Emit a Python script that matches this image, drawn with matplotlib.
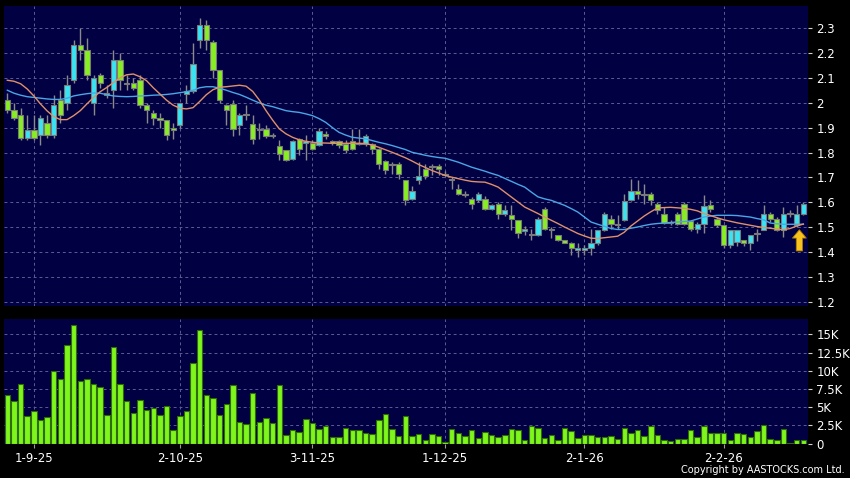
import matplotlib
matplotlib.use("Agg")
import matplotlib.pyplot as plt

# daily candles (index 0 = first bar on the left)
opens = [2.01, 1.97, 1.95, 1.86, 1.89, 1.87, 1.92, 1.87, 2.01, 2.00,
         2.09, 2.23, 2.21, 2.00, 2.11, 2.04, 2.05, 2.17, 2.08, 2.08,
         2.09, 1.99, 1.96, 1.94, 1.93, 1.90, 1.91, 2.035, 2.045, 2.25,
         2.31, 2.245, 2.13, 1.99, 1.995, 1.91, 1.955, 1.915, 1.895, 1.895,
         1.87, 1.825, 1.81, 1.775, 1.855, 1.84, 1.84, 1.83, 1.875, 1.845,
         1.845, 1.835, 1.845, 1.84, 1.835, 1.835, 1.815, 1.765, 1.755, 1.755,
         1.688, 1.615, 1.69, 1.735, 1.742, 1.745, 1.712, 1.692, 1.655, 1.635,
         1.615, 1.61, 1.615, 1.575, 1.595, 1.555, 1.548, 1.528, 1.487, 1.47,
         1.468, 1.575, 1.49, 1.468, 1.448, 1.435, 1.41, 1.41, 1.415, 1.435,
         1.488, 1.535, 1.51, 1.528, 1.608, 1.645, 1.628, 1.635, 1.595, 1.555,
         1.52, 1.555, 1.595, 1.525, 1.495, 1.515, 1.588, 1.535, 1.508, 1.43,
         1.441, 1.448, 1.435, 1.472, 1.49, 1.555, 1.532, 1.488, 1.555, 1.508,
         1.555]
closes = [1.97, 1.94, 1.86, 1.89, 1.86, 1.94, 1.87, 1.99, 1.95, 2.07,
          2.23, 2.21, 2.11, 2.10, 2.08, 2.03, 2.17, 2.09, 2.076, 2.06,
          1.99, 1.97, 1.94, 1.93, 1.87, 1.89, 2.00, 2.045, 2.155, 2.31,
          2.25, 2.13, 2.01, 1.97, 1.895, 1.95, 1.95, 1.855, 1.89, 1.868,
          1.865, 1.795, 1.77, 1.845, 1.815, 1.845, 1.815, 1.888, 1.868, 1.84,
          1.83, 1.81, 1.815, 1.835, 1.865, 1.815, 1.755, 1.73, 1.75, 1.715,
          1.61, 1.645, 1.705, 1.705, 1.74, 1.735, 1.71, 1.69, 1.635, 1.63,
          1.595, 1.635, 1.575, 1.59, 1.555, 1.568, 1.535, 1.475, 1.493, 1.468,
          1.535, 1.495, 1.488, 1.448, 1.437, 1.415, 1.415, 1.415, 1.435, 1.488,
          1.555, 1.515, 1.515, 1.605, 1.645, 1.635, 1.632, 1.608, 1.568, 1.518,
          1.517, 1.515, 1.515, 1.495, 1.515, 1.585, 1.575, 1.508, 1.428, 1.488,
          1.488, 1.435, 1.468, 1.477, 1.555, 1.535, 1.488, 1.555, 1.552, 1.555,
          1.595]
highs = [2.04, 2.00, 1.98, 1.95, 1.95, 1.95, 1.95, 2.03, 2.05, 2.11,
         2.25, 2.30, 2.26, 2.11, 2.12, 2.07, 2.21, 2.20, 2.11, 2.10,
         2.11, 2.00, 1.97, 1.96, 1.93, 1.92, 2.00, 2.07, 2.24, 2.34,
         2.33, 2.25, 2.13, 1.995, 2.01, 1.96, 1.99, 1.95, 1.92, 1.91,
         1.88, 1.85, 1.81, 1.85, 1.86, 1.87, 1.85, 1.90, 1.885, 1.85,
         1.85, 1.85, 1.895, 1.895, 1.875, 1.84, 1.82, 1.77, 1.76, 1.76,
         1.69, 1.665, 1.76, 1.755, 1.755, 1.755, 1.725, 1.70, 1.675, 1.645,
         1.62, 1.64, 1.625, 1.595, 1.60, 1.59, 1.59, 1.53, 1.505, 1.495,
         1.54, 1.58, 1.50, 1.47, 1.45, 1.44, 1.435, 1.43, 1.495, 1.49,
         1.56, 1.55, 1.55, 1.635, 1.695, 1.69, 1.675, 1.64, 1.60, 1.58,
         1.53, 1.56, 1.60, 1.53, 1.52, 1.63, 1.61, 1.54, 1.51, 1.49,
         1.49, 1.45, 1.47, 1.495, 1.59, 1.56, 1.54, 1.58, 1.57, 1.59,
         1.60]
lows = [1.96, 1.93, 1.85, 1.85, 1.85, 1.83, 1.86, 1.86, 1.92, 1.97,
        2.08, 2.17, 2.09, 1.95, 2.06, 2.02, 1.98, 2.05, 2.05, 2.05,
        1.98, 1.92, 1.91, 1.90, 1.85, 1.855, 1.90, 2.00, 2.04, 2.22,
        2.21, 2.10, 2.00, 1.91, 1.865, 1.87, 1.93, 1.835, 1.855, 1.86,
        1.86, 1.77, 1.765, 1.77, 1.79, 1.77, 1.81, 1.825, 1.855, 1.83,
        1.82, 1.80, 1.81, 1.83, 1.825, 1.795, 1.735, 1.715, 1.715, 1.695,
        1.59, 1.61, 1.675, 1.695, 1.71, 1.71, 1.705, 1.655, 1.63, 1.62,
        1.575, 1.60, 1.57, 1.57, 1.535, 1.545, 1.49, 1.455, 1.47, 1.448,
        1.465, 1.49, 1.455, 1.445, 1.435, 1.39, 1.38, 1.39, 1.39, 1.43,
        1.485, 1.495, 1.495, 1.525, 1.605, 1.615, 1.595, 1.59, 1.555, 1.515,
        1.51, 1.51, 1.51, 1.485, 1.475, 1.475, 1.56, 1.50, 1.415, 1.415,
        1.425, 1.425, 1.41, 1.445, 1.49, 1.52, 1.485, 1.46, 1.54, 1.50,
        1.55]

# moving averages as drawn (orange = short, blue = long)
ma_short = [2.090, 2.086, 2.076, 2.055, 2.027, 1.995, 1.967, 1.944, 1.932, 1.932,
            1.948, 1.968, 1.995, 2.021, 2.044, 2.061, 2.081, 2.100, 2.112, 2.115,
            2.104, 2.088, 2.060, 2.035, 2.010, 1.990, 1.978, 1.975, 1.980, 2.005,
            2.032, 2.052, 2.062, 2.064, 2.067, 2.070, 2.066, 2.045, 2.010, 1.968,
            1.930, 1.895, 1.875, 1.861, 1.851, 1.845, 1.841, 1.839, 1.838, 1.837,
            1.837, 1.837, 1.837, 1.837, 1.836, 1.830, 1.821, 1.811, 1.801, 1.790,
            1.779, 1.766, 1.752, 1.740, 1.728, 1.718, 1.708, 1.701, 1.695, 1.689,
            1.684, 1.682, 1.681, 1.672, 1.661, 1.641, 1.621, 1.601, 1.581, 1.568,
            1.555, 1.541, 1.528, 1.515, 1.501, 1.488, 1.475, 1.465, 1.456, 1.455,
            1.458, 1.461, 1.464, 1.480, 1.505, 1.525, 1.545, 1.562, 1.577, 1.579,
            1.580, 1.578, 1.576, 1.572, 1.566, 1.555, 1.547, 1.538, 1.530, 1.524,
            1.518, 1.513, 1.508, 1.503, 1.499, 1.496, 1.493, 1.490, 1.495, 1.505,
            1.513]
ma_long = [2.050, 2.038, 2.030, 2.024, 2.021, 2.018, 2.015, 2.013, 2.013, 2.018,
           2.027, 2.032, 2.036, 2.039, 2.038, 2.032, 2.027, 2.025, 2.024, 2.025,
           2.027, 2.028, 2.030, 2.031, 2.033, 2.036, 2.040, 2.044, 2.050, 2.060,
           2.064, 2.064, 2.058, 2.050, 2.041, 2.033, 2.022, 2.010, 1.999, 1.990,
           1.984, 1.976, 1.968, 1.964, 1.961, 1.955, 1.948, 1.936, 1.921, 1.900,
           1.881, 1.870, 1.861, 1.858, 1.855, 1.848, 1.841, 1.835, 1.828, 1.820,
           1.812, 1.801, 1.795, 1.789, 1.784, 1.780, 1.777, 1.769, 1.761, 1.751,
           1.741, 1.733, 1.725, 1.716, 1.708, 1.696, 1.684, 1.672, 1.661, 1.641,
           1.622, 1.614, 1.608, 1.598, 1.588, 1.575, 1.561, 1.541, 1.521, 1.512,
           1.504, 1.495, 1.491, 1.491, 1.496, 1.501, 1.507, 1.512, 1.515, 1.517,
           1.519, 1.521, 1.523, 1.525, 1.533, 1.541, 1.545, 1.548, 1.548, 1.548,
           1.547, 1.544, 1.541, 1.535, 1.530, 1.517, 1.514, 1.512, 1.512, 1.512,
           1.512]

# volume in thousands of shares
volumes = [6.65, 5.87, 8.17, 3.76, 4.50, 3.30, 3.72, 10.0, 8.90, 13.49,
           16.24, 8.62, 8.81, 8.17, 7.80, 3.99, 13.21, 8.12, 5.83, 4.27,
           5.92, 4.68, 4.95, 3.99, 5.18, 1.88, 3.76, 4.50, 11.06, 15.55,
           6.65, 6.24, 3.94, 5.46, 8.03, 3.03, 2.71, 6.88, 3.03, 3.53,
           2.84, 7.98, 1.24, 1.83, 1.65, 3.44, 2.89, 2.06, 2.39, 0.96,
           0.92, 2.20, 1.83, 1.93, 1.47, 1.28, 3.30, 4.13, 1.97, 1.01,
           3.81, 1.06, 1.38, 0.55, 1.38, 1.10, 0.23, 2.02, 1.47, 1.01,
           1.93, 0.83, 1.65, 1.15, 0.92, 1.15, 2.02, 1.93, 0.55, 2.48,
           2.11, 0.78, 1.24, 0.46, 2.20, 1.74, 0.73, 1.24, 1.15, 0.87,
           0.87, 1.06, 0.64, 2.11, 1.51, 1.93, 1.06, 2.39, 1.15, 0.55,
           0.32, 0.69, 0.69, 1.83, 0.92, 2.43, 1.47, 1.51, 1.42, 0.46,
           1.42, 1.28, 0.87, 1.70, 2.52, 0.60, 0.46, 1.97, 0.09, 0.55,
           0.55]

date_positions = [4, 26, 46, 66, 87, 108]
date_labels = ['1-9-25', '2-10-25', '3-11-25', '1-12-25', '2-1-26', '2-2-26']

price_ticks = [1.2, 1.3, 1.4, 1.5, 1.6, 1.7, 1.8, 1.9, 2.0, 2.1, 2.2, 2.3]
volume_ticks = [0, 2.5, 5, 7.5, 10, 12.5, 15]
volume_tick_labels = ['0', '2.5K', '5K', '7.5K', '10K', '12.5K', '15K']

# signal arrow under the latest bars
arrow_x = 119.4
arrow_base, arrow_tip = 1.405, 1.49

UP_COLOR = '#3be3f2'
DOWN_COLOR = '#86ee22'
PANEL_BG = '#000042'
GRID_COLOR = '#5c5c92'

x = list(range(len(closes)))

fig = plt.figure(figsize=(8.5, 4.78), dpi=100, facecolor='black')
ax1 = fig.add_axes([4 / 850, 1 - 306 / 478, 804 / 850, 300 / 478])
ax2 = fig.add_axes([4 / 850, 1 - 444 / 478, 804 / 850, 125 / 478])


def style_panel(ax):
    """Dark panel, dashed grid, ticks on the right."""
    ax.set_facecolor(PANEL_BG)
    for s in ax.spines.values():
        s.set_visible(False)
    ax.yaxis.tick_right()
    ax.tick_params(axis='y', colors='#d0d0d0', labelcolor='white', length=3,
                   width=0.8, pad=3, labelsize=8.5)
    ax.grid(True, color=GRID_COLOR, linestyle=(0, (3, 3)), linewidth=0.7)
    ax.set_axisbelow(True)
    ax.set_xlim(-0.5, 120.7)
    ax.set_xticks(date_positions)


style_panel(ax1)
style_panel(ax2)

# price panel: wicks, bodies, moving averages
ax1.vlines(x, lows, highs, color='#8a8a8a', linewidth=1, zorder=2)
bodies = [max(abs(c - o), 0.004) for o, c in zip(opens, closes)]
bottoms = [min(o, c) for o, c in zip(opens, closes)]
colors = [UP_COLOR if c > o else DOWN_COLOR for o, c in zip(opens, closes)]
ax1.bar(x, bodies, bottom=bottoms, width=0.8, color=colors,
        edgecolor='#7a7a7a', linewidth=0.8, zorder=3)
ax1.plot(x, ma_long, color='#4aa6e6', linewidth=1, zorder=4)
ax1.plot(x, ma_short, color='#e0906a', linewidth=1, zorder=4)

# yellow up arrow (no shrinking so it spans base -> tip)
ax1.annotate('', xy=(arrow_x, arrow_tip), xytext=(arrow_x, arrow_base),
             arrowprops=dict(arrowstyle='simple,head_width=1.0,head_length=0.6,tail_width=0.45',
                             fc='#f7c21e', ec='#b07a00', lw=0.6, mutation_scale=10,
                             shrinkA=0, shrinkB=0),
             zorder=5)

ax1.set_ylim(1.184, 2.388)
ax1.set_yticks(price_ticks)
ax1.set_yticklabels(['%g' % t for t in price_ticks])
ax1.tick_params(axis='x', length=0, labelbottom=False)

# volume panel
ax2.bar(x, volumes, width=0.82, color='#7ef51c', edgecolor='#2f6b08',
        linewidth=0.8, zorder=3)
ax2.set_ylim(-0.05, 17.1)
ax2.set_yticks(volume_ticks)
ax2.set_yticklabels(volume_tick_labels)
ax2.set_xticklabels(date_labels)
ax2.tick_params(axis='x', colors='#9a9a9a', labelcolor='white', length=3,
                width=0.8, pad=3, labelsize=8.5)

fig.text(0.994, 0.006, 'Copyright by AASTOCKS.com Ltd.', color='white',
         fontsize=7, ha='right', va='bottom')

fig.savefig('out.png', dpi=100, facecolor='black')
